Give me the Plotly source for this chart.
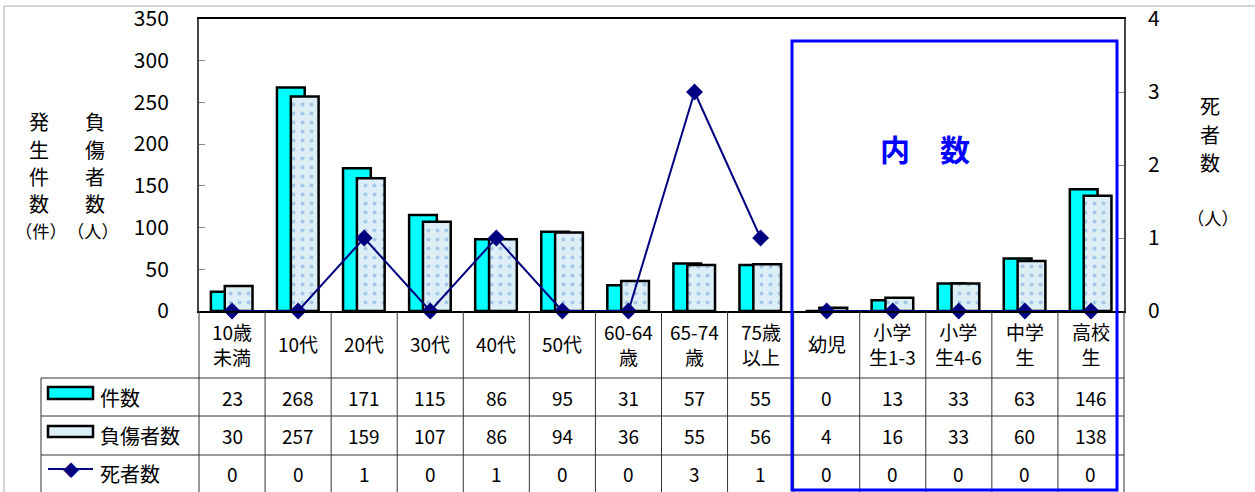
import plotly.graph_objects as go

categories = ["10歳<br>未満", "10代", "20代", "30代", "40代", "50代", "60-64<br>歳", "65-74<br>歳",
              "75歳<br>以上", "幼児", "小学<br>生1-3", "小学<br>生4-6", "中学<br>生", "高校<br>生"]
incidents = [23, 268, 171, 115, 86, 95, 31, 57, 55, 0, 13, 33, 63, 146]
injured = [30, 257, 159, 107, 86, 94, 36, 55, 56, 4, 16, 33, 60, 138]
deaths = [0, 0, 1, 0, 1, 0, 0, 3, 1, 0, 0, 0, 0, 0]
n_age = 9  # first 9 are age groups, the rest are the "内数" breakdown

FONT = "Noto Sans CJK JP"
W, H = 1255, 492
L, R, T, B = 199, 1124, 19, 311
pw, ph = R - L, B - T


def px_x(p):
    return (p - L) / pw


def px_y(p):
    return (B - p) / ph


def label(x, y, text, size=20, color="black", xref="paper", xanchor="center"):
    return dict(x=x, y=y, xref=xref, yref="paper", text=text, showarrow=False,
                xanchor=xanchor, yanchor="middle",
                font=dict(family=FONT, size=size, color=color))


xs = list(range(len(categories)))

fig = go.Figure()
fig.add_trace(go.Bar(x=xs, y=incidents, offset=-0.32, width=0.42,
                     marker=dict(color="#00FFFF", line=dict(color="black", width=2.5))))
fig.add_trace(go.Bar(x=xs, y=injured, offset=-0.11, width=0.42,
                     marker=dict(color="#DCEEF6", line=dict(color="black", width=2.5),
                                 pattern=dict(shape=".", fgcolor="#6E9FD6", bgcolor="#DCEEF6",
                                              size=9, solidity=0.15))))
# line split into two groups (no connection between 75歳以上 and 幼児)
line_x = xs[:n_age] + [None] + xs[n_age:]
line_y = deaths[:n_age] + [None] + deaths[n_age:]
fig.add_trace(go.Scatter(x=line_x, y=line_y, yaxis="y2", mode="lines+markers",
                         line=dict(color="#000080", width=2),
                         marker=dict(symbol="diamond", size=13, color="#000080"),
                         cliponaxis=False, connectgaps=False))

shapes = []
ann = []
grid = dict(color="#333333", width=1)

# table grid
for yp in [378, 416, 455]:
    shapes.append(dict(type="line", xref="paper", yref="paper", x0=px_x(41), x1=1,
                       y0=px_y(yp), y1=px_y(yp), line=grid))
shapes.append(dict(type="line", xref="paper", yref="paper", x0=px_x(41), x1=px_x(41),
                   y0=px_y(378), y1=px_y(H), line=grid))
for i in range(len(categories) + 1):
    xp = i / len(categories)
    shapes.append(dict(type="line", xref="paper", yref="paper", x0=xp, x1=xp,
                       y0=0, y1=px_y(H), line=grid))

# outer border
shapes.append(dict(type="line", xref="paper", yref="paper", x0=px_x(4), x1=px_x(W),
                   y0=px_y(6), y1=px_y(6), line=dict(color="#AAAAAA", width=1)))
shapes.append(dict(type="line", xref="paper", yref="paper", x0=px_x(4), x1=px_x(4),
                   y0=px_y(6), y1=px_y(H), line=dict(color="#AAAAAA", width=1)))

# blue box for 内数
shapes.append(dict(type="rect", xref="paper", yref="paper", x0=px_x(792), x1=px_x(1117),
                   y0=px_y(490), y1=px_y(41), line=dict(color="#0000FF", width=3)))

# legend swatches in table
shapes.append(dict(type="rect", xref="paper", yref="paper", x0=px_x(48), x1=px_x(93),
                   y0=px_y(399), y1=px_y(387), fillcolor="#00FFFF",
                   line=dict(color="black", width=2.5)))
shapes.append(dict(type="rect", xref="paper", yref="paper", x0=px_x(48), x1=px_x(93),
                   y0=px_y(437), y1=px_y(426), fillcolor="#DCEEF6",
                   line=dict(color="black", width=2.5)))
shapes.append(dict(type="line", xref="paper", yref="paper", x0=px_x(48), x1=px_x(93),
                   y0=px_y(469), y1=px_y(469), line=dict(color="#000080", width=2)))
ann.append(label(px_x(70.5), px_y(469), "◆", size=16, color="#000080"))

row_names = ["件数", "負傷者数", "死者数"]
row_y = [397, 435.5, 473.5]
for name, yp in zip(row_names, row_y):
    ann.append(label(px_x(98), px_y(yp), name, size=20, xanchor="left"))

for i, cat in enumerate(categories):
    ann.append(label(i, px_y(344), cat, size=19, xref="x"))
    for vals, yp in zip([incidents, injured, deaths], row_y):
        ann.append(label(i, px_y(yp), str(vals[i]), size=19, xref="x"))

# vertical axis titles, one character per line
for ch, yp in zip("発生件数", [122, 149, 176, 203]):
    ann.append(label(px_x(39), px_y(yp), ch, size=20))
for ch, yp in zip("負傷者数", [122, 149, 176, 203]):
    ann.append(label(px_x(95), px_y(yp), ch, size=20))
ann.append(label(px_x(41), px_y(230), "（件）", size=17.3))
ann.append(label(px_x(93), px_y(230), "（人）", size=17.3))
for ch, yp in zip("死者数", [106, 134, 162]):
    ann.append(label(px_x(1210), px_y(yp), ch, size=20))
ann.append(label(px_x(1213), px_y(217), "（人）", size=17.3))

ann.append(label(px_x(925), px_y(148), "<b>内　数</b>", size=30, color="#0000FF"))

fig.update_layout(
    width=W, height=H,
    margin=dict(l=L, r=W - R, t=T, b=H - B),
    paper_bgcolor="white", plot_bgcolor="white",
    barmode="overlay", showlegend=False,
    font=dict(family=FONT, size=20, color="black"),
    xaxis=dict(range=[-0.5, len(categories) - 0.5], showticklabels=False, ticks="",
               showgrid=False, zeroline=False, showline=True, linecolor="black",
               linewidth=1.5, mirror=True, automargin=False),
    yaxis=dict(range=[0, 350], dtick=50, ticks="inside", ticklen=6, tickcolor="#888888",
               showgrid=False, zeroline=False, showline=True, linecolor="#444444", linewidth=2,
               tickfont=dict(family=FONT, size=21), ticklabelstandoff=24, automargin=False),
    yaxis2=dict(range=[0, 4], dtick=1, overlaying="y", side="right", ticks="inside",
                ticklen=6, tickcolor="#888888", showgrid=False, zeroline=False,
                showline=True, linecolor="#444444", linewidth=1.5,
                tickfont=dict(family=FONT, size=21), ticklabelstandoff=18, automargin=False),
    shapes=shapes, annotations=ann,
)

fig.write_html("out.html", config={"displayModeBar": False},
               post_script="document.body.style.margin='0';")
